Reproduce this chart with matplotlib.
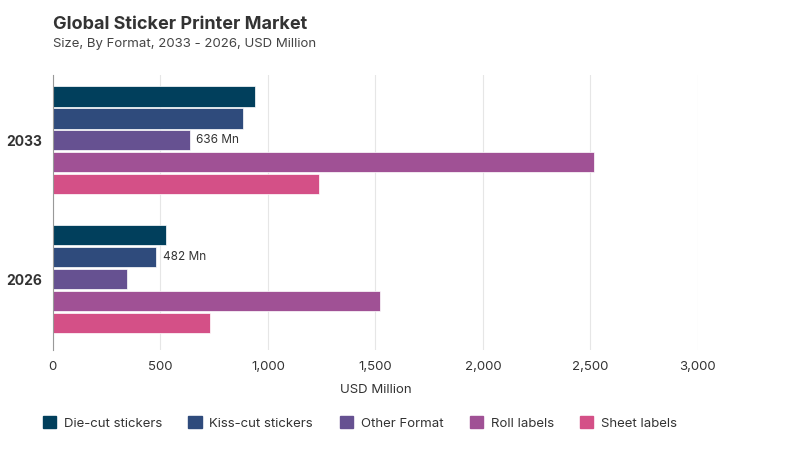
import matplotlib
matplotlib.use("Agg")
import matplotlib.pyplot as plt
import numpy as np

years = ["2033", "2026"]
series = ["Die-cut stickers", "Kiss-cut stickers", "Other Format", "Roll labels", "Sheet labels"]
values = {
    "Die-cut stickers": [938, 526],
    "Kiss-cut stickers": [884, 482],
    "Other Format": [636, 344],
    "Roll labels": [2518, 1521],
    "Sheet labels": [1237, 730],
}
labels = {("Other Format", 0): "636 Mn", ("Kiss-cut stickers", 1): "482 Mn"}
colors = ["#013f5c", "#2f4b7c", "#665191", "#a05195", "#d45087"]

plt.rcParams['font.family'] = ['Inter', 'DejaVu Sans']
fig = plt.figure(figsize=(8, 4.5), dpi=100)
ax = fig.add_axes([0.066, 0.222, 0.8065, 0.611])

step = 0.158
h = 0.145
for i, s in enumerate(series):
    for g in range(len(years)):
        y = g + (i - 2) * step
        v = values[s][g]
        ax.barh(y, v, height=h, color=colors[i], edgecolor='white', linewidth=0.5)
        if (s, g) in labels:
            ax.text(v + 30, y, labels[(s, g)], va='center', ha='left', fontsize=8.5, color='#333333')

ax.set_ylim(1.51, -0.47)
ax.set_xlim(0, 3000)
ax.set_yticks([0, 1])
ax.set_yticklabels(years, fontsize=10, fontweight='bold', color='#333333')
ax.set_xticks(np.arange(0, 3001, 500))
ax.set_xticklabels([f"{x:,}" for x in range(0, 3001, 500)], fontsize=9.5, color='#333333')
ax.grid(axis='x', color='#e6e6e6', linewidth=0.8)
ax.set_axisbelow(True)
for sp in ['top', 'right', 'bottom']:
    ax.spines[sp].set_visible(False)
ax.spines['left'].set_color('#999999')
ax.tick_params(length=0, pad=8)
ax.set_xlabel("USD Million", fontsize=9.5, color='#333333', labelpad=8)

fig.text(0.066, 0.935, "Global Sticker Printer Market", fontsize=13, fontweight='bold', color='#333333')
fig.text(0.066, 0.895, "Size, By Format, 2033 - 2026, USD Million", fontsize=9.5, color='#444444')

handles = [plt.Rectangle((0, 0), 1, 1, color=c) for c in colors]
leg = fig.legend(handles, series, loc='center', bbox_to_anchor=(0.45, 0.06), ncol=5, frameon=False,
                 fontsize=9.5, handlelength=1.0, handleheight=1.0, columnspacing=2.0, handletextpad=0.6)
for t in leg.get_texts():
    t.set_color('#333333')

fig.savefig("out.png", dpi=100)
